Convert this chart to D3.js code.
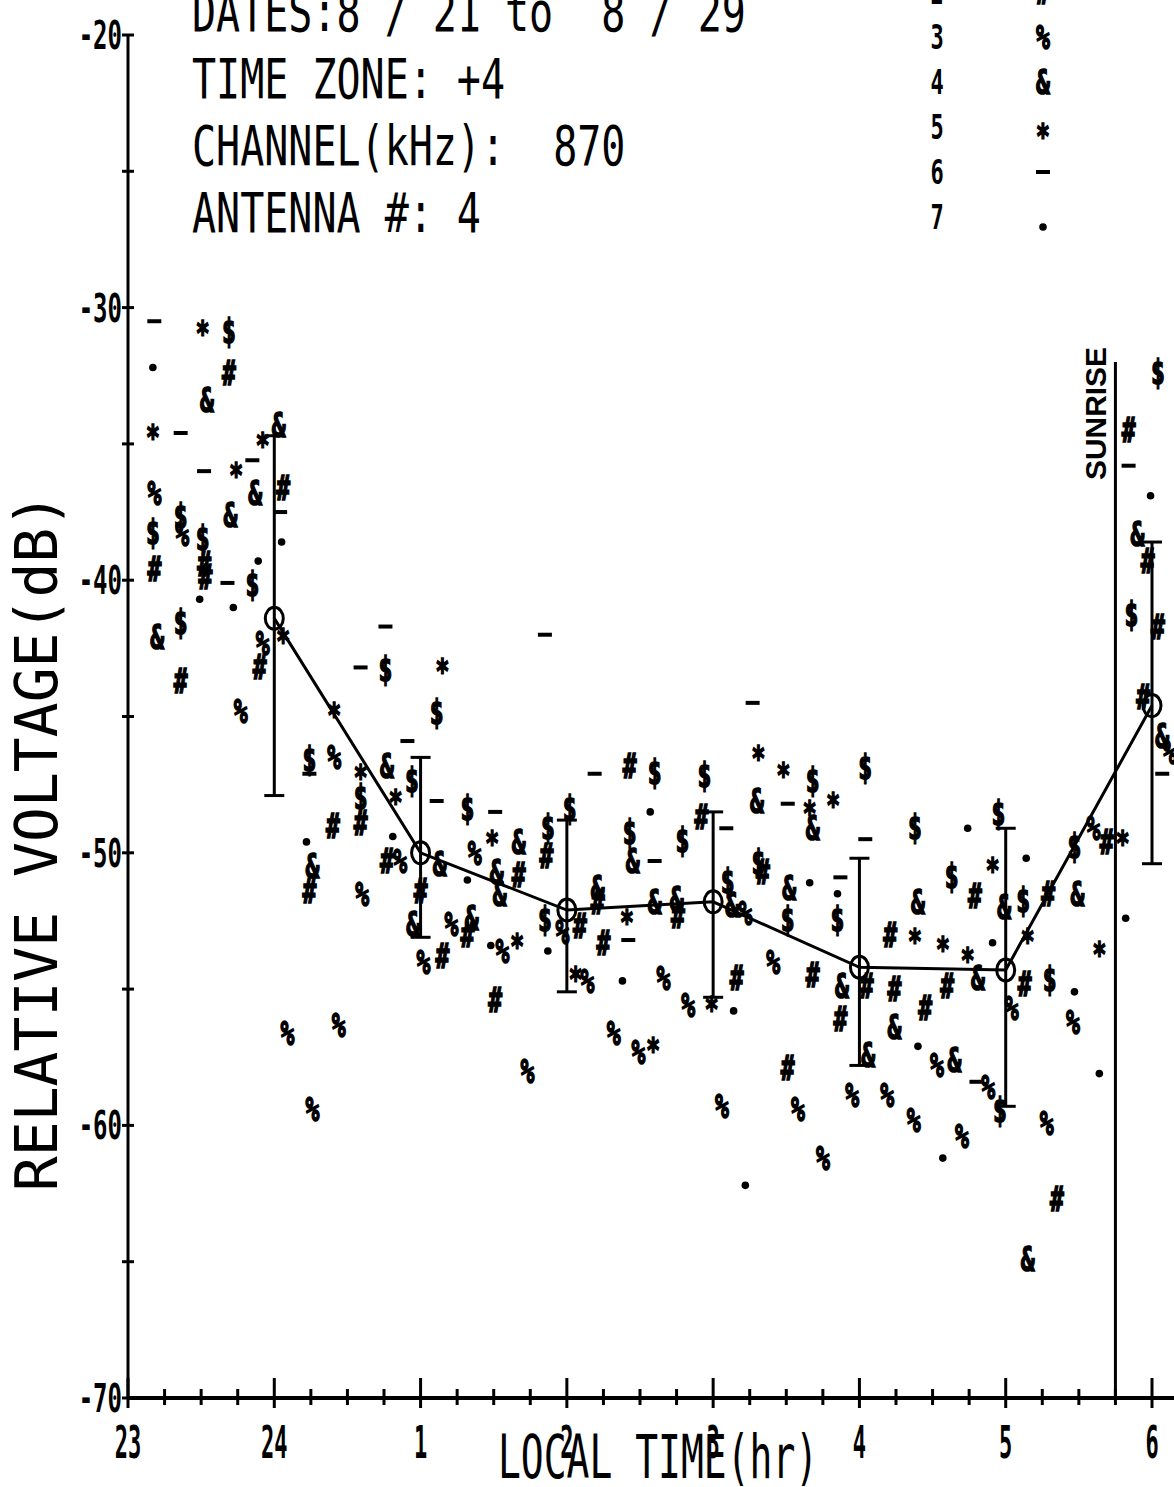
<!DOCTYPE html>
<html lang="en">
<head>
    <meta charset="UTF-8">
    <title>Relative Voltage vs Local Time - 870 kHz</title>
    <script src="https://d3js.org/d3.v7.min.js"></script>
    <style>
        body { margin: 0; background: #fff; }
        svg text { font-family: "DejaVu Sans Mono", monospace; fill: #000; white-space: pre; }
    </style>
</head>
<body>
    <svg id="chart" width="1174" height="1487"></svg>
    <script>
        // ---- data (time in hours on a continuous 23..30 scale, voltage in dB) ----
        var seriesSymbols = ["$", "#", "%", "&", "*", "-", "."];

        var series1 = [[23.69,-30.9],[23.17,-38.3],[23.36,-37.7],[23.51,-38.5],[23.85,-40.2],[23.36,-41.6],
            [24.76,-43.3],[25.11,-44.9],[24.24,-46.6],[24.94,-47.4],[24.59,-48.0],[25.32,-48.4],
            [25.87,-49.1],[25.85,-52.5],[26.02,-48.4],[26.60,-47.1],[26.94,-47.2],[26.43,-49.3],
            [26.79,-49.6],[27.10,-51.1],[27.31,-50.4],[27.51,-52.5],[28.04,-46.9],[27.68,-47.4],
            [28.38,-49.1],[28.95,-48.6],[28.63,-50.9],[27.85,-52.5],[28.96,-59.5],[29.12,-51.8],
            [29.30,-54.7],[29.47,-49.8],[30.04,-32.4],[29.86,-41.3]];

        var series2 = [[23.69,-32.4],[23.52,-39.4],[23.53,-39.9],[23.18,-39.6],[23.36,-43.7],[23.90,-43.2],
            [24.06,-36.6],[24.40,-49.0],[24.59,-48.9],[24.24,-51.4],[24.77,-50.3],[25.00,-51.4],
            [25.15,-53.8],[25.32,-53.0],[25.67,-50.8],[25.86,-50.1],[25.51,-55.4],[26.43,-46.8],
            [26.92,-48.7],[27.34,-50.7],[26.21,-51.8],[26.76,-52.3],[26.09,-52.7],[26.25,-53.3],
            [27.16,-54.6],[27.51,-57.9],[28.79,-51.6],[28.21,-53.0],[27.68,-54.5],[28.05,-54.9],
            [28.24,-55.0],[28.60,-54.9],[28.45,-55.7],[27.87,-56.1],[29.13,-54.8],[29.29,-51.5],
            [29.69,-49.6],[29.35,-62.7],[29.84,-34.5],[29.97,-39.3],[30.04,-41.7],[29.94,-44.3]];

        var series3 = [[23.18,-36.8],[23.37,-38.3],[23.77,-44.8],[23.92,-42.3],[24.41,-46.5],[24.86,-50.3],
            [24.60,-51.5],[25.02,-54.0],[25.21,-52.6],[25.37,-50.0],[25.56,-53.6],[24.09,-56.6],
            [24.44,-56.3],[25.73,-58.0],[24.26,-59.4],[27.22,-52.2],[25.97,-52.9],[26.14,-54.7],
            [26.66,-54.6],[26.83,-55.6],[27.41,-54.0],[26.32,-56.6],[26.49,-57.3],[27.06,-59.3],
            [28.53,-57.8],[28.88,-58.6],[27.58,-59.4],[27.95,-58.9],[28.19,-58.9],[28.37,-59.8],
            [28.70,-60.4],[27.75,-61.2],[29.04,-55.7],[29.46,-56.2],[29.28,-59.9],[29.60,-49.1],
            [30.12,-46.3]];

        var series4 = [[23.54,-33.4],[24.03,-34.3],[23.87,-36.8],[23.70,-37.6],[23.20,-42.1],[24.77,-46.8],
            [24.26,-50.5],[25.13,-50.4],[24.95,-52.6],[25.35,-52.4],[25.52,-50.7],[25.54,-51.5],
            [25.67,-49.6],[27.30,-48.1],[26.45,-50.3],[26.21,-51.3],[26.60,-51.8],[26.75,-51.7],
            [27.13,-51.9],[27.52,-51.3],[27.68,-49.1],[28.40,-51.8],[28.99,-52.0],[28.81,-54.6],
            [27.88,-54.9],[28.24,-56.4],[28.06,-57.4],[28.65,-57.6],[29.15,-64.9],[29.49,-51.5],
            [29.90,-38.3],[30.07,-45.7]];

        var series5 = [[23.51,-30.6],[23.17,-34.4],[23.92,-34.7],[23.74,-35.8],[24.06,-41.9],[24.41,-44.6],
            [25.15,-43.0],[24.59,-46.9],[24.83,-47.8],[25.49,-49.3],[25.66,-53.1],[27.31,-46.2],
            [27.48,-46.8],[26.41,-52.2],[26.06,-54.3],[26.99,-55.4],[26.59,-56.9],[27.82,-47.9],
            [27.66,-48.2],[28.91,-50.3],[28.38,-52.9],[28.57,-53.2],[28.74,-53.6],[29.15,-52.9],
            [29.64,-53.4],[29.80,-49.3]];

        var series6 = [[23.18,-30.5],[23.36,-34.6],[23.52,-36.0],[23.85,-35.6],[23.68,-40.1],[24.04,-37.5],
            [24.76,-41.7],[24.59,-43.2],[24.91,-45.9],[24.24,-47.1],[25.11,-48.1],[25.51,-48.5],
            [25.85,-42.0],[27.27,-44.5],[26.19,-47.1],[27.09,-49.1],[26.60,-50.3],[26.42,-53.2],
            [27.51,-48.2],[28.04,-49.5],[27.87,-50.9],[28.80,-58.4],[29.84,-35.8],[30.07,-47.1]];

        var series7 = [[23.17,-32.2],[24.05,-38.6],[23.49,-40.7],[23.72,-41.0],[23.89,-39.3],[24.81,-49.4],
            [24.22,-49.6],[25.32,-51.0],[25.48,-53.4],[26.57,-48.5],[25.87,-53.6],[26.38,-54.7],
            [27.14,-55.8],[28.74,-49.1],[27.66,-51.1],[27.85,-51.5],[28.91,-53.3],[28.40,-57.1],
            [28.57,-61.2],[29.14,-50.2],[29.47,-55.1],[29.64,-58.1],[29.82,-52.4],[29.99,-36.9],
            [27.22,-62.2]];

        // hourly means with their spread
        var meanTimes  = [24, 25, 26, 27, 28, 29, 30];
        var meanValues = [-41.4, -50.0, -52.1, -51.8, -54.2, -54.3, -44.6];
        var barHigh    = [-34.7, -46.5, -48.8, -48.5, -50.2, -49.1, -38.6];
        var barLow     = [-47.9, -53.1, -55.1, -55.3, -57.8, -59.3, -50.4];

        var sunriseTime = 29.75;
        var sunriseTop = -32.0;

        var headerLines = ["DATES:8 / 21 to  8 / 29", "TIME ZONE: +4", "CHANNEL(kHz):  870", "ANTENNA #: 4"];
        var hourTicks = [23, 24, 25, 26, 27, 28, 29, 30];
        var hourLabels = ["23", "24", "1", "2", "3", "4", "5", "6"];
        var voltTicks = [-70, -60, -50, -40, -30, -20];
        var legendNumbers = [1, 2, 3, 4, 5, 6, 7];

        // ---- setup ----
        var svg = d3.select("#chart");
        var x = d3.scaleLinear().domain([23, 30]).range([128, 1152]);
        var y = d3.scaleLinear().domain([-70, -20]).range([1398, 35]);

        // stretched plotter-like text
        function plotText(g, px, py, str, size, sy, anchor, weight) {
            return g.append("text")
                .attr("transform", "translate(" + px + "," + py + ") scale(1," + sy + ")")
                .attr("text-anchor", anchor || "start")
                .style("font-size", size + "px")
                .style("font-weight", weight || "normal")
                .text(str);
        }

        var symbolDy = {"$": 7, "#": 8, "%": 8, "&": 8, "*": 14};

        function drawSymbol(g, sym, px, py) {
            if (sym === "-") {
                g.append("line")
                    .attr("x1", px - 7).attr("x2", px + 7)
                    .attr("y1", py).attr("y2", py)
                    .attr("stroke", "#000").attr("stroke-width", 4);
            } else if (sym === ".") {
                g.append("circle").attr("cx", px).attr("cy", py).attr("r", 3.8).attr("fill", "#000");
            } else {
                g.append("text")
                    .attr("transform", "translate(" + px + "," + py + ") scale(1,1.5)")
                    .attr("y", symbolDy[sym])
                    .attr("text-anchor", "middle")
                    .attr("stroke", "#000")
                    .attr("stroke-width", 1.1)
                    .style("font-size", "23px")
                    .style("font-weight", "bold")
                    .text(sym);
            }
        }

        // ---- axes ----
        var axes = svg.append("g").attr("class", "axes");

        axes.append("line")
            .attr("x1", x(23)).attr("x2", x(23))
            .attr("y1", y(-20)).attr("y2", y(-70))
            .attr("stroke", "#000").attr("stroke-width", 3);

        axes.selectAll("line.ytick")
            .data(d3.range(-70, -19, 5))
            .enter().append("line")
            .attr("class", "ytick")
            .attr("x1", x(23) - 6).attr("x2", x(23) + 6)
            .attr("y1", function(d) { return y(d); })
            .attr("y2", function(d) { return y(d); })
            .attr("stroke", "#000").attr("stroke-width", 3);

        voltTicks.forEach(function(v) {
            plotText(axes, x(23) - 6, y(v) + 14, String(v), 24, 1.65, "end", "bold");
        });

        axes.append("line")
            .attr("x1", x(23)).attr("x2", 1174)
            .attr("y1", y(-70)).attr("y2", y(-70))
            .attr("stroke", "#000").attr("stroke-width", 4);

        axes.selectAll("line.xtick")
            .data(d3.range(23, 30.01, 0.25))
            .enter().append("line")
            .attr("class", "xtick")
            .attr("x1", function(d) { return x(d); })
            .attr("x2", function(d) { return x(d); })
            .attr("y1", function(d) { return y(-70) - (d % 1 === 0 ? 20 : 9); })
            .attr("y2", function(d) { return y(-70) + (d % 1 === 0 ? 10 : 7); })
            .attr("stroke", "#000").attr("stroke-width", 3);

        hourTicks.forEach(function(h, i) {
            plotText(axes, x(h), 1458, hourLabels[i], 22, 2.0, "middle", "bold");
        });

        // axis titles
        plotText(svg, 498, 1478, "LOCAL TIME(hr)", 38, 1.58, "start");
        svg.append("text")
            .attr("transform", "translate(57,842) rotate(-90)")
            .attr("text-anchor", "middle")
            .style("font-size", "58px")
            .text("RELATIVE VOLTAGE(dB)");

        // header block
        headerLines.forEach(function(t, i) {
            plotText(svg, 192, 31 + i * 67, t, 40, 1.37, "start");
        });

        // legend
        var legend = svg.append("g").attr("id", "legend");
        legendNumbers.forEach(function(n, i) {
            var cy = 37 + (n - 3) * 45;
            plotText(legend, 937, cy + 12, String(n), 22, 1.55, "middle", "bold");
            drawSymbol(legend, seriesSymbols[i], 1043, seriesSymbols[i] === "." ? cy + 10 : cy);
        });

        // sunrise marker
        svg.append("line")
            .attr("x1", x(sunriseTime)).attr("x2", x(sunriseTime))
            .attr("y1", y(sunriseTop)).attr("y2", y(-70))
            .attr("stroke", "#000").attr("stroke-width", 3);
        svg.append("text")
            .attr("transform", "translate(" + (x(sunriseTime) - 9) + ",480) rotate(-90)")
            .attr("textLength", 133)
            .attr("lengthAdjust", "spacingAndGlyphs")
            .style("font-family", "'Liberation Sans', Arial, sans-serif")
            .style("font-weight", "bold")
            .style("font-size", "29px")
            .text("SUNRISE");

        // ---- means, error bars ----
        var stats = meanTimes.map(function(t, i) {
            return {t: t, m: meanValues[i], hi: barHigh[i], lo: barLow[i]};
        });

        var bars = svg.append("g").attr("class", "bars");
        bars.selectAll("line.stem").data(stats).enter().append("line")
            .attr("class", "stem")
            .attr("x1", function(d) { return x(d.t); })
            .attr("x2", function(d) { return x(d.t); })
            .attr("y1", function(d) { return y(d.hi); })
            .attr("y2", function(d) { return y(d.lo); })
            .attr("stroke", "#000").attr("stroke-width", 3);
        ["hi", "lo"].forEach(function(k) {
            bars.selectAll("line.cap" + k).data(stats).enter().append("line")
                .attr("class", "cap" + k)
                .attr("x1", function(d) { return x(d.t) - 10; })
                .attr("x2", function(d) { return x(d.t) + 10; })
                .attr("y1", function(d) { return y(d[k]); })
                .attr("y2", function(d) { return y(d[k]); })
                .attr("stroke", "#000").attr("stroke-width", 3);
        });

        var meanLine = d3.line()
            .x(function(d) { return x(d.t); })
            .y(function(d) { return y(d.m); });
        svg.append("path")
            .datum(stats)
            .attr("d", meanLine)
            .attr("fill", "none")
            .attr("stroke", "#000").attr("stroke-width", 3);

        svg.selectAll("ellipse.mean").data(stats).enter().append("ellipse")
            .attr("class", "mean")
            .attr("cx", function(d) { return x(d.t); })
            .attr("cy", function(d) { return y(d.m); })
            .attr("rx", 9).attr("ry", 11)
            .attr("fill", "none")
            .attr("stroke", "#000").attr("stroke-width", 3);

        // ---- scatter of the seven nights ----
        var allSeries = [series1, series2, series3, series4, series5, series6, series7];
        allSeries.forEach(function(pts, i) {
            var g = svg.append("g").attr("class", "series" + (i + 1));
            pts.forEach(function(d) {
                drawSymbol(g, seriesSymbols[i], x(d[0]), y(d[1]));
            });
        });
    </script>
</body>
</html>
